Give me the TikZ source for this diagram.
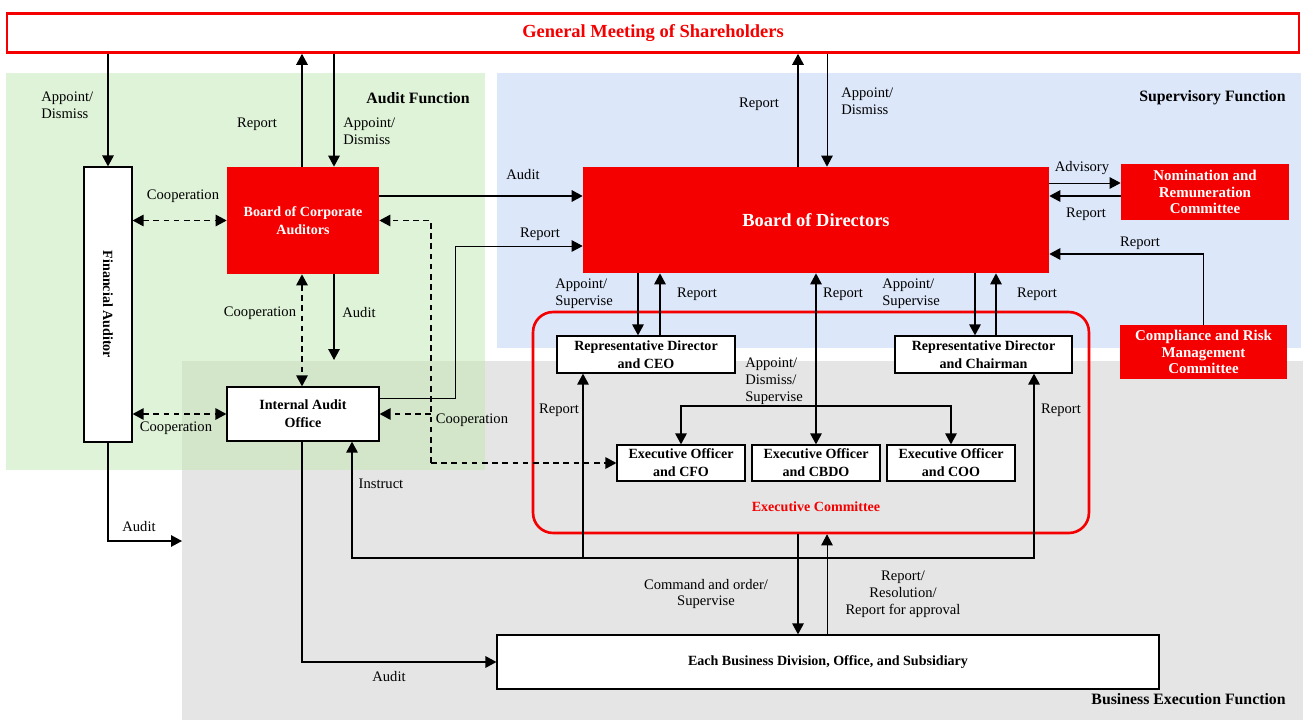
\documentclass[tikz,border=0pt]{standalone}
\usepackage{fontspec}
\setmainfont{Liberation Serif}
\usetikzlibrary{arrows.meta}
\definecolor{mred}{RGB}{245,0,0}
\definecolor{bggreen}{RGB}{223,243,216}
\definecolor{bgblue}{RGB}{220,231,250}
\definecolor{bggray}{RGB}{229,229,229}
\definecolor{bgmix}{RGB}{211,230,202}
\newcommand{\lblfont}{\fontsize{8.3}{9.6}\selectfont}
\newcommand{\boxfont}{\fontsize{8}{10.3}\selectfont\bfseries}
\newcommand{\cmfont}{\fontsize{8.5}{9.6}\selectfont\bfseries}
\newcommand{\bigfont}{\fontsize{10.5}{12}\selectfont\bfseries}
\newcommand{\fnfont}{\fontsize{9}{11}\selectfont\bfseries}
\tikzset{
  lbl/.style={font=\lblfont, inner sep=0pt, align=center},
  lbll/.style={font=\lblfont, inner sep=0pt, align=left, anchor=west},
  wbox/.style={draw=black, line width=0.7pt, fill=white, font=\boxfont, align=center, inner sep=0pt},
  rbox/.style={fill=mred, text=white, font=\boxfont, align=center, inner sep=0pt},
  tip/.tip={Triangle[length=2.2mm,width=2.3mm]},
  conn/.style={line width=0.8pt, -tip},
  conntwo/.style={line width=0.8pt, tip-tip},
  thinconn/.style={line width=0.5pt, -tip},
  dsh/.style={line width=0.8pt, dash pattern=on 3.2pt off 2.6pt},
  dconn/.style={dsh, -tip},
  dconntwo/.style={dsh, tip-tip},
  fnlbl/.style={font=\fnfont, inner sep=0pt}
}
\begin{document}
\begin{tikzpicture}[x=0.02cm,y=-0.02cm]
\useasboundingbox (0,0) rectangle (1303,720);
\fill[white] (0,0) rectangle (1303,720);
% function regions
\fill[bggreen] (6,73) rectangle (485,470);
\fill[bgblue] (497,73) rectangle (1301,348);
\fill[bggray] (182,361) rectangle (1303,720);
\fill[bgmix] (182,361) rectangle (485,470);

% nodes
\node[wbox, draw=mred, line width=1.5pt, minimum width=25.84cm, minimum height=0.78cm, font=\bigfont, text=mred] (gm) at (653,33) {General Meeting of Shareholders};
\node[wbox, minimum width=0.96cm, minimum height=5.5cm] (fa) at (108,304.5) {};
\node[font=\boxfont, rotate=-90, inner sep=0pt] (fat) at (fa.center) {Financial Auditor};
\node[rbox, minimum width=3.04cm, minimum height=2.14cm] (bca) at (303,220.5) {Board of Corporate\\Auditors};
\node[wbox, minimum width=3.04cm, minimum height=1.08cm] (iao) at (303,414) {Internal Audit\\Office};
\node[rbox, minimum width=9.32cm, minimum height=2.12cm, font=\bigfont] (bod) at (816,220) {Board of Directors};
\node[rbox, minimum width=3.36cm, minimum height=1.12cm, font=\cmfont] (nom) at (1205,192) {Nomination and\\Remuneration\\Committee};
\node[rbox, minimum width=3.34cm, minimum height=1.08cm, font=\cmfont] (crm) at (1203.5,352) {Compliance and Risk\\Management\\Committee};
\node[draw=mred, line width=1.5pt, rounded corners=0.4cm, minimum width=11.12cm, minimum height=4.42cm] (ec) at (811,422.5) {};
\node[wbox, minimum width=3.56cm, minimum height=0.74cm] (ceo) at (646,354.5) {Representative Director\\and CEO};
\node[wbox, minimum width=3.54cm, minimum height=0.74cm] (chair) at (983.5,354.5) {Representative Director\\and Chairman};
\node[wbox, minimum width=2.56cm, minimum height=0.72cm] (cfo) at (681,463) {Executive Officer\\and CFO};
\node[wbox, minimum width=2.56cm, minimum height=0.72cm] (cbdo) at (816,463) {Executive Officer\\and CBDO};
\node[wbox, minimum width=2.56cm, minimum height=0.72cm] (coo) at (951,463) {Executive Officer\\and COO};
\node[wbox, minimum width=13.24cm, minimum height=1.08cm] (biz) at (828,662) {Each Business Division, Office, and Subsidiary};
\node[font=\boxfont, text=mred, inner sep=0pt] (ectxt) at (816,507) {Executive Committee};

% function titles
\node[fnlbl] (fnaudit) at (418,98) {Audit Function};
\node[fnlbl, anchor=east] (fnsup) at (1286,98) {Supervisory Function};
\node[fnlbl, anchor=east] (fnbiz) at (1286,699) {Business Execution Function};

% helper coordinates
\coordinate (auditend) at (334,360);
\coordinate (faend) at (182,541);
\coordinate (dj) at (431,463);
\coordinate (lj) at (583,558);

% connectors
\draw[conn] (gm.south -| fa.north) -- (fa.north);
\draw[conn] (bca.north -| 302,0) -- (gm.south -| 302,0);
\draw[conn] (gm.south -| 334,0) -- (bca.north -| 334,0);
\draw[conn] (bod.north -| 798,0) -- (gm.south -| 798,0);
\draw[thinconn] (gm.south -| 827,0) -- (bod.north -| 827,0);
\draw[dconntwo] (fa.east |- bca.west) -- (bca.west);
\draw[conn] (bca.east |- 0,196) -- (bod.west |- 0,196);
\draw[thinconn] (iao.east |- 0,398) -- (455,398) -- (455,246) -- (bod.west |- 0,246);
\draw[dconntwo] (bca.south -| 302,0) -- (iao.north -| 302,0);
\draw[conn] (bca.south -| auditend) -- (auditend);
\draw[dconntwo] (fa.east |- iao.west) -- (iao.west);
\draw[dconn] (dj) |- (bca.east);
\draw[dconn] (dj) -- (cfo.west);
\draw[dconn] (dj |- iao.east) -- (iao.east);
\draw[conn] (fa.south) |- (faend);
\draw[conn] (iao.south -| 302,0) |- (biz.west);
\draw[conn] (lj) -| (iao.south -| 352,0);
\draw[conn] (lj) -- (ceo.south -| lj);
\draw[conn] (lj) -| (chair.south -| 1034,0);
\draw[conn] (bod.south -| 638,0) -- (ceo.north -| 638,0);
\draw[conn] (ceo.north -| 660,0) -- (bod.south -| 660,0);
\draw[conn] (bod.south -| 975,0) -- (chair.north -| 975,0);
\draw[conn] (chair.north -| 996,0) -- (bod.south -| 996,0);
\draw[conntwo] (bod.south) -- (cbdo.north);
\draw[conntwo] (cfo.north) |- (cbdo.north |- 0,406) -| (coo.north);
\draw[thinconn] (bod.east |- 0,183) -- (nom.west |- 0,183);
\draw[conn] (nom.west |- 0,196) -- (bod.east |- 0,196);
\draw[conn] (crm.north) |- (bod.east |- 0,254);
\draw[conn] (ec.south -| 798,0) -- (biz.north -| 798,0);
\draw[thinconn] (biz.north -| 827,0) -- (ec.south -| 827,0);

% labels
\node[lbll] (l1) at (41,105) {Appoint/\\Dismiss};
\node[lbl] (l2) at (257,124) {Report};
\node[lbll] (l3) at (343,131) {Appoint/\\Dismiss};
\node[lbl] (l4) at (183,196) {Cooperation};
\node[lbl] (l5) at (759,104) {Report};
\node[lbll] (l6) at (841,101) {Appoint/\\Dismiss};
\node[lbl] (l7) at (523,175) {Audit};
\node[lbl] (l8) at (540,234) {Report};
\node[lbl] (l9) at (1082,168) {Advisory};
\node[lbl] (l10) at (1086,214) {Report};
\node[lbl] (l11) at (1140,243) {Report};
\node[lbll] (l12) at (555,294) {Appoint/\\Supervise};
\node[lbl] (l13) at (697,294) {Report};
\node[lbl] (l14) at (843,294) {Report};
\node[lbll] (l15) at (882,294) {Appoint/\\Supervise};
\node[lbl] (l16) at (1037,294) {Report};
\node[lbl] (l17) at (260,313) {Cooperation};
\node[lbl] (l18) at (359,313) {Audit};
\node[lbll] (l19) at (745,381) {Appoint/\\Dismiss/\\Supervise};
\node[lbl] (l20) at (559,410) {Report};
\node[lbl] (l21) at (1061,410) {Report};
\node[lbl] (l22) at (176,428) {Cooperation};
\node[lbl] (l23) at (472,420) {Cooperation};
\node[lbl] (l24) at (381,484) {Instruct};
\node[lbl] (l25) at (139,527) {Audit};
\node[lbl] (l26) at (706,594) {Command and order/\\Supervise};
\node[lbl] (l27) at (903,594) {Report/\\Resolution/\\Report for approval};
\node[lbl] (l28) at (389,677) {Audit};
\end{tikzpicture}
\end{document}
